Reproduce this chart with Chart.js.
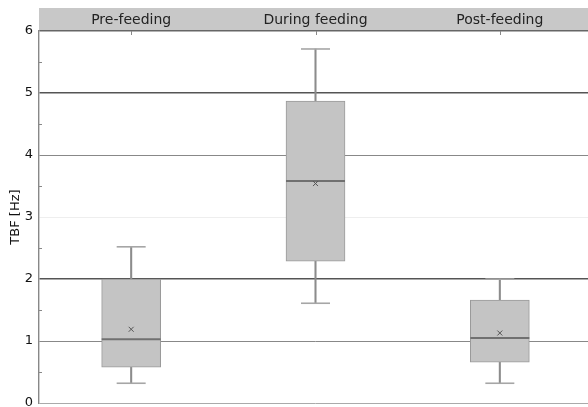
<!DOCTYPE html>
<html>
<head>
<meta charset="utf-8">
<script src="https://cdn.jsdelivr.net/npm/chart.js@4"></script>
<style>
  html, body { margin: 0; padding: 0; overflow: hidden; background: #fff; }
  #wrap { width: 588px; height: 407px; overflow: hidden; }
  canvas { display: block; }
</style>
</head>
<body>
<div id="wrap"><canvas id="tbfchart" width="592" height="413"></canvas></div>
<script>
const categories = ["Pre-feeding", "During feeding", "Post-feeding"];
const whiskerMin = [0.32, 1.61, 0.32];
const q1 = [0.58, 2.29, 0.66];
const median = [1.03, 3.58, 1.05];
const q3 = [2.0, 4.87, 1.66];
const whiskerMax = [2.52, 5.71, 2.0];
const means = [1.19, 3.54, 1.13];
const yMin = 0;
const yMax = 6;

const font = "'DejaVu Sans', 'Liberation Sans', sans-serif";

// grey header band behind the category labels + small inward tick marks
const decor = {
    id: "decor",
    beforeDraw(chart) {
        const c = chart.ctx;
        const x = chart.scales.x;
        const area = chart.chartArea;
        c.save();
        c.fillStyle = "#c8c8c8";
        c.fillRect(x.left, 8, x.right - x.left, area.top - 8);
        c.restore();
    },
    afterDraw(chart) {
        const c = chart.ctx;
        const x = chart.scales.x;
        const y = chart.scales.y;
        const area = chart.chartArea;
        c.save();
        c.strokeStyle = "#888";
        c.lineWidth = 1;
        c.beginPath();
        for (let v = yMin; v < yMax; v++) {
            const py = Math.round(y.getPixelForValue(v + 0.5)) + 0.5;
            c.moveTo(area.left, py);
            c.lineTo(area.left + 3, py);
        }
        categories.forEach((cat, i) => {
            const px = Math.round(x.getPixelForValue(i)) + 0.5;
            c.moveTo(px, area.top);
            c.lineTo(px, area.top + 4);
        });
        c.stroke();
        c.restore();
    }
};

const gridColor = v => {
    if (v === 6) return "#666";
    if (v === 5 || v === 2) return "#555";
    if (v === 3) return "#eeeeee";
    if (v === 0) return "#aaa";
    return "#888";
};
const gridWidth = v => (v === 5 || v === 2 || v === 6) ? 1.6 : 1;

const ctx = document.getElementById("tbfchart").getContext("2d");

window.tbfChart = new Chart(ctx, {
    type: "bar",
    data: {
        labels: categories,
        datasets: [
            {
                label: "whisker",
                data: whiskerMin.map((v, i) => [v, whiskerMax[i]]),
                backgroundColor: "#8c8c8c",
                barThickness: 1.4,
                grouped: false,
                order: 5
            },
            {
                label: "box",
                data: q1.map((v, i) => [v, q3[i]]),
                backgroundColor: "#c4c4c4",
                borderColor: "#9a9a9a",
                borderWidth: 1,
                borderSkipped: false,
                barThickness: 59,
                grouped: false,
                order: 4
            },
            {
                type: "line",
                label: "median",
                data: median,
                showLine: false,
                pointStyle: "line",
                pointRadius: 29.5,
                borderColor: "#707070",
                borderWidth: 2,
                order: 2
            },
            {
                type: "line",
                label: "cap low",
                data: whiskerMin,
                showLine: false,
                pointStyle: "line",
                pointRadius: 14.5,
                borderColor: "#a6a6a6",
                borderWidth: 1.6,
                order: 2
            },
            {
                type: "line",
                label: "cap high",
                data: whiskerMax,
                showLine: false,
                pointStyle: "line",
                pointRadius: 14.5,
                borderColor: "#a6a6a6",
                borderWidth: 1.6,
                order: 2
            },
            {
                type: "line",
                label: "mean",
                data: means,
                showLine: false,
                pointStyle: "crossRot",
                pointRadius: 3.5,
                borderColor: "#555",
                borderWidth: 1,
                order: 1
            }
        ]
    },
    options: {
        responsive: false,
        animation: false,
        events: [],
        layout: {
            autoPadding: false,
            padding: { top: 0, left: 0, right: 0, bottom: 4 }
        },
        plugins: {
            legend: { display: false },
            tooltip: { enabled: false }
        },
        scales: {
            x: {
                position: "top",
                offset: true,
                grid: { display: false, drawTicks: false },
                border: { display: false },
                ticks: {
                    padding: 2,
                    color: "#222",
                    font: { family: font, size: 14 }
                },
                afterFit: s => { s.height = 31; }
            },
            y: {
                min: yMin,
                max: yMax,
                ticks: {
                    stepSize: 1,
                    padding: 6,
                    color: "#111",
                    font: { family: font, size: 13, lineHeight: 0.6 }
                },
                grid: {
                    drawTicks: false,
                    color: c => gridColor(c.tick.value),
                    lineWidth: c => gridWidth(c.tick.value)
                },
                border: { display: true, color: "#888", width: 1.4 },
                title: {
                    display: true,
                    text: "TBF [Hz]",
                    color: "#111",
                    padding: { top: 8, bottom: 0 },
                    font: { family: font, size: 13 }
                },
                afterFit: s => { s.width = 39; }
            }
        }
    },
    plugins: [decor]
});
</script>
</body>
</html>
